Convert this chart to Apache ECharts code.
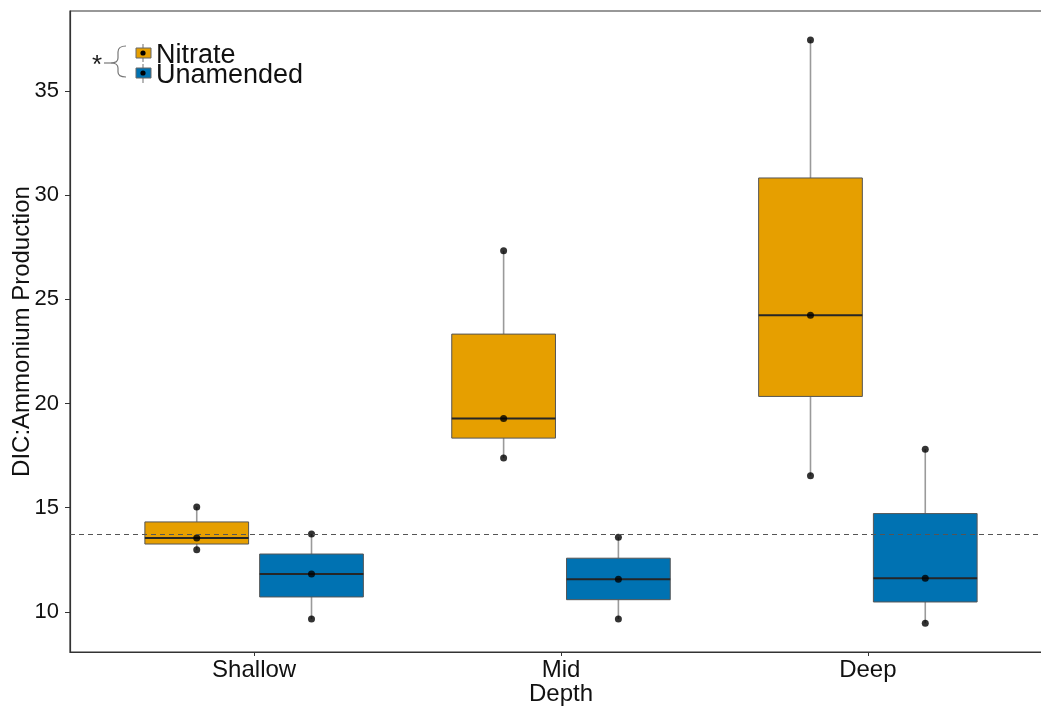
<!DOCTYPE html>
<html>
<head>
<meta charset="utf-8">
<script src="https://cdn.jsdelivr.net/npm/echarts@6/dist/echarts.min.js"></script>
<style>html,body{margin:0;padding:0;background:#fff}#main{width:1041px;height:707px}</style>
</head>
<body>
<div id="main"></div>
<script>
var categories = ['Shallow', 'Mid', 'Deep'];
// boxes: [min, q1, median, q3, max]
var nitrateBox = [[12.98, 13.26, 13.55, 14.32, 15.04], [17.39, 18.34, 19.28, 23.33, 27.33], [16.54, 20.34, 24.24, 30.82, 37.44]];
var unamendedBox = [[9.66, 10.72, 11.82, 12.78, 13.74], [9.66, 10.59, 11.57, 12.58, 13.59], [9.46, 10.48, 11.62, 14.72, 17.81]];
// individual samples (3 per group)
var nitratePoints = [[12.98, 13.55, 15.04], [17.39, 19.28, 27.33], [16.54, 24.24, 37.44]];
var unamendedPoints = [[9.66, 11.82, 13.74], [9.66, 11.57, 13.59], [9.46, 11.62, 17.81]];
var refLine = 13.73;
var yTicks = [10, 15, 20, 25, 30, 35];
var xTicks = [1, 2, 3];

var FONT = 'Liberation Sans';
var ORANGE = '#E69F00', BLUE = '#0072B2';
var DODGE = 0.187, HALF = 0.169;

function boxRender(offset, color) {
	return function (params, api) {
		var x = api.value(0) + offset;
		var pMin = api.coord([x, api.value(1)]);
		var pQ1 = api.coord([x, api.value(2)]);
		var pMed = api.coord([x, api.value(3)]);
		var pQ3 = api.coord([x, api.value(4)]);
		var pMax = api.coord([x, api.value(5)]);
		var left = api.coord([x - HALF, api.value(3)])[0];
		var right = api.coord([x + HALF, api.value(3)])[0];
		var whisker = {stroke: '#9a9a9a', lineWidth: 1.6};
		return {type: 'group', children: [
			{type: 'line', shape: {x1: pMin[0], y1: pMin[1], x2: pQ1[0], y2: pQ1[1]}, style: whisker},
			{type: 'line', shape: {x1: pQ3[0], y1: pQ3[1], x2: pMax[0], y2: pMax[1]}, style: whisker},
			{type: 'rect', shape: {x: left, y: pQ3[1], width: right - left, height: pQ1[1] - pQ3[1]}, style: {fill: color, stroke: '#555', lineWidth: 1}},
			{type: 'line', shape: {x1: left, y1: pMed[1], x2: right, y2: pMed[1]}, style: {stroke: '#262626', lineWidth: 2}}
		]};
	};
}

function boxData(boxes) {
	return boxes.map(function (b, i) { return [i + 1].concat(b); });
}
function pointData(points, offset) {
	var out = [];
	points.forEach(function (arr, i) {
		arr.forEach(function (v) { out.push([i + 1 + offset, v]); });
	});
	return out;
}

var braceStyle = {stroke: '#777', lineWidth: 1.2, fill: 'none'};
var legendGraphics = [
	{type: 'text', left: 92, top: 53, style: {text: '*', font: '26px ' + FONT, fill: '#1a1a1a'}},
	{type: 'line', shape: {x1: 104, y1: 63, x2: 111, y2: 63}, style: braceStyle},
	{type: 'bezierCurve', shape: {x1: 126, y1: 46, x2: 118, y2: 52, cpx1: 118, cpy1: 46}, style: braceStyle},
	{type: 'line', shape: {x1: 118, y1: 52, x2: 118, y2: 58}, style: braceStyle},
	{type: 'bezierCurve', shape: {x1: 118, y1: 58, x2: 111, y2: 63, cpx1: 118, cpy1: 63}, style: braceStyle},
	{type: 'bezierCurve', shape: {x1: 111, y1: 63, x2: 118, y2: 68, cpx1: 118, cpy1: 63}, style: braceStyle},
	{type: 'line', shape: {x1: 118, y1: 68, x2: 118, y2: 72}, style: braceStyle},
	{type: 'bezierCurve', shape: {x1: 118, y1: 72, x2: 126, y2: 77, cpx1: 118, cpy1: 77}, style: braceStyle},
	{type: 'line', shape: {x1: 143, y1: 44, x2: 143, y2: 62}, style: {stroke: '#888', lineWidth: 1.2}},
	{type: 'rect', shape: {x: 136, y: 48, width: 15, height: 10}, style: {fill: ORANGE, stroke: '#666', lineWidth: 1}},
	{type: 'circle', shape: {cx: 143, cy: 53, r: 2.6}, style: {fill: '#000'}},
	{type: 'line', shape: {x1: 143, y1: 64, x2: 143, y2: 83}, style: {stroke: '#888', lineWidth: 1.2}},
	{type: 'rect', shape: {x: 136, y: 68, width: 15, height: 10}, style: {fill: BLUE, stroke: '#666', lineWidth: 1}},
	{type: 'circle', shape: {cx: 143, cy: 73, r: 2.6}, style: {fill: '#000'}},
	{type: 'text', left: 156, top: 42, style: {text: 'Nitrate', font: '27px ' + FONT, fill: '#111'}},
	{type: 'text', left: 156, top: 62, style: {text: 'Unamended', font: '27px ' + FONT, fill: '#111'}}
];

var myChart = echarts.init(document.getElementById('main'));
myChart.setOption({
	backgroundColor: '#fff',
	animation: false,
	grid: {left: 70, top: 11, width: 982, height: 641, outerBoundsMode: 'none', containLabel: false,
		show: true, borderColor: '#333', borderWidth: 1.2},
	xAxis: {
		type: 'value', min: 0.4, max: 3.6,
		name: 'Depth', nameLocation: 'middle', nameGap: 30, nameMoveOverlap: false,
		nameTextStyle: {fontFamily: FONT, fontSize: 24, color: '#111'},
		axisLine: {show: true, lineStyle: {color: '#333', width: 1.2}},
		axisTick: {show: true, customValues: xTicks, length: 4, lineStyle: {color: '#333'}},
		axisLabel: {customValues: xTicks, margin: 6, fontFamily: FONT, fontSize: 24, color: '#111',
			formatter: function (v) { return categories[Math.round(v) - 1] || ''; }},
		splitLine: {show: false}
	},
	yAxis: {
		type: 'value', min: 8.08, max: 38.83,
		name: 'DIC:Ammonium Production', nameLocation: 'middle', nameGap: 36, nameMoveOverlap: false,
		nameTextStyle: {fontFamily: FONT, fontSize: 24, color: '#111'},
		axisLine: {show: true, lineStyle: {color: '#333', width: 1.2}},
		axisTick: {show: true, customValues: yTicks, length: 5, lineStyle: {color: '#333'}},
		axisLabel: {customValues: yTicks, margin: 11, fontFamily: FONT, fontSize: 22, color: '#111'},
		splitLine: {show: false}
	},
	graphic: legendGraphics,
	series: [
		{type: 'custom', name: 'Nitrate', z: 2, renderItem: boxRender(-DODGE, ORANGE), data: boxData(nitrateBox), encode: {x: 0, y: [1, 2, 3, 4, 5]}},
		{type: 'custom', name: 'Unamended', z: 2, renderItem: boxRender(DODGE, BLUE), data: boxData(unamendedBox), encode: {x: 0, y: [1, 2, 3, 4, 5]}},
		{type: 'scatter', z: 4, symbolSize: 7, itemStyle: {color: '#000'}, data: pointData(nitratePoints, -DODGE),
			markLine: {silent: true, symbol: ['none', 'none'], label: {show: false},
				lineStyle: {type: [5, 4], color: '#555', width: 1.2}, data: [{yAxis: refLine}]}},
		{type: 'scatter', z: 4, symbolSize: 7, itemStyle: {color: '#000'}, data: pointData(unamendedPoints, DODGE)}
	]
});
</script>
</body>
</html>
